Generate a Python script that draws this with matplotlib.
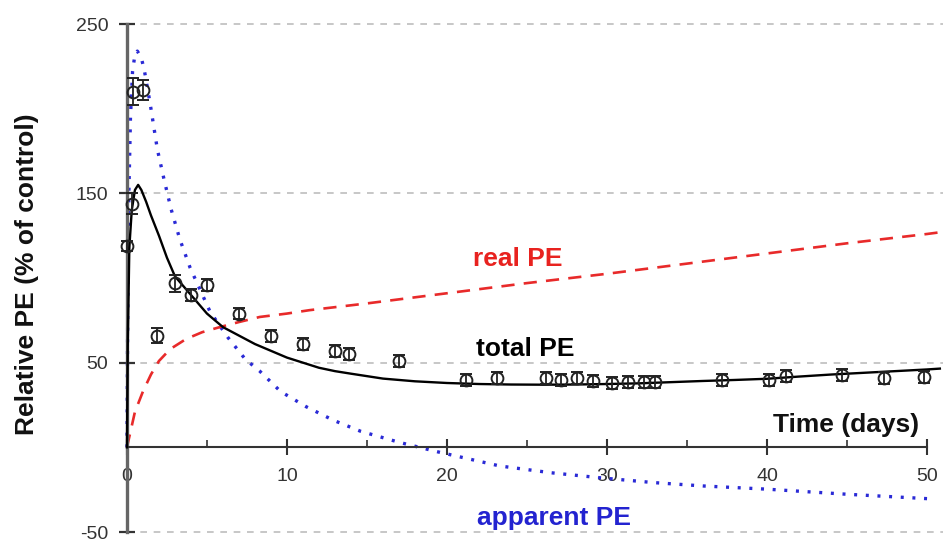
import matplotlib
matplotlib.use("Agg")
import matplotlib.pyplot as plt
from matplotlib.ticker import MultipleLocator

plt.rcParams['font.family'] = ['Liberation Sans', 'DejaVu Sans']
plt.rcParams['axes.unicode_minus'] = False

# observed points (days, % of control) with error bars
x_obs = [0.0, 0.3, 0.35, 1.0, 1.9, 3.0, 4.0, 5.0, 7.0, 9.0, 11.0, 13.0, 13.9, 17.0,
         21.2, 23.1, 26.2, 27.1, 28.1, 29.1, 30.3, 31.3, 32.3, 33.0,
         37.2, 40.1, 41.2, 44.7, 47.3, 49.8]
y_obs = [119, 144, 210, 211, 66, 97, 90, 96, 79, 66, 61, 57, 55, 51,
         40, 41, 41, 40, 41, 39, 38, 38.5, 38.5, 38.5,
         40, 40, 42, 42.5, 41, 41.5]
err_obs = [3, 6, 8, 6, 4.5, 5, 3.5, 3.5, 3.5, 3.5, 3.5, 3.5, 3.5, 3.5,
           3.5, 3.5, 3.5, 3.5, 3.5, 3.5, 3.5, 3.5, 3.5, 3.5,
           3.5, 3.5, 3.5, 3.5, 3.5, 3.5]

# model curves
x_total = [0, 0.05, 0.15, 0.3, 0.5, 0.7, 0.9, 1.2, 1.5, 2.0, 2.5, 3.0, 4.0, 5.0, 6.0,
           7.0, 8.0, 9.0, 10, 11, 12, 13, 14, 16, 18, 20, 22, 24, 26, 28, 30, 32,
           34, 36, 38, 40, 42, 44, 46, 48, 50, 50.8]
y_total = [0, 60, 118, 140, 152, 155, 152, 145, 137, 125, 112, 101, 90, 79, 71,
           66, 61, 57, 53, 50, 47, 45, 43.5, 40.6, 39, 38, 37.4, 37.1, 37, 37.1, 37.4, 37.8,
           38.5, 39.2, 39.8, 40.5, 41.8, 43, 44, 45, 46, 46.5]

x_real = [0, 0.5, 1.0, 1.5, 2.0, 2.7, 3.7, 4.7, 5.8, 7.0, 8.3, 10, 11.4, 15, 20, 25,
          30, 35, 40, 45, 50, 50.8]
y_real = [0, 21, 33, 43, 51, 58, 64, 68, 71, 74, 77, 79, 81, 85, 91, 97,
          102.5, 108.5, 114.5, 120.5, 126, 127]

x_app = [0, 0.05, 0.12, 0.22, 0.35, 0.5, 0.65, 0.9, 1.1, 1.45, 1.9, 2.3, 2.75, 3.3,
         3.95, 5.2, 6.3, 7.4, 8.3, 9.6, 11.2, 12.9, 14.6, 17, 19.4, 23.3, 26.5,
         29.6, 32.9, 36, 40, 45, 50.4]
y_app = [0, 80, 150, 195, 222, 232, 234, 230, 222, 203, 176, 159, 141, 123,
         106, 80, 65, 52, 45, 33, 24, 16, 9.5, 3, -2.6, -11, -15,
         -18, -20.8, -22.8, -24.7, -27.7, -30.5]

y_grid = [250, 150, 50, -50]

fig = plt.figure(figsize=(9.44, 5.44), dpi=100)
ax = fig.add_axes([0.126, 0.0158, 0.873, 0.9463])
ax.set_xlim(-0.5, 51)
ax.set_ylim(-52, 252)

ax.hlines(y_grid, 0, 51, colors='#bdbdbd', linestyles=(0, (4, 4)), linewidth=1.2, zorder=0)

ax.plot(x_app, y_app, color='#2a2ad6', linewidth=2.4, linestyle=(0, (0.9, 2.6)),
        clip_on=False, zorder=2)
ax.plot(x_real, y_real, color='#e82a2a', linewidth=1.9, linestyle=(0, (5, 3.5)),
        clip_on=False, zorder=2)
ax.plot(x_total, y_total, color='black', linewidth=1.7, clip_on=False, zorder=3)
ax.errorbar(x_obs, y_obs, yerr=err_obs, fmt='o', mfc='none', mec='#222222',
            mew=1.4, ms=8.5, ecolor='#222222', elinewidth=1.3, capsize=4,
            capthick=1.3, clip_on=False, zorder=4)

for s in ['top', 'right']:
    ax.spines[s].set_visible(False)
ax.spines['left'].set_position(('data', 0))
ax.spines['left'].set_bounds(-50, 250)
ax.spines['left'].set_color('#666666')
ax.spines['left'].set_linewidth(2.4)
ax.spines['bottom'].set_position(('data', 0))
ax.spines['bottom'].set_bounds(0, 50)
ax.spines['bottom'].set_color('#333333')
ax.spines['bottom'].set_linewidth(1.5)

ax.set_yticks(y_grid)
ax.set_xticks(range(0, 51, 10))
ax.xaxis.set_minor_locator(MultipleLocator(5))
ax.tick_params(axis='y', direction='inout', length=11, width=1.6, color='#333333',
               labelsize=14, labelcolor='#333333', pad=8)
ax.tick_params(axis='x', which='major', direction='inout', length=12, width=1.5,
               color='#333333', labelsize=14, labelcolor='#333333', pad=9)
ax.tick_params(axis='x', which='minor', direction='in', length=5, width=1.2,
               color='#333333')

ax.text(24.4, 111.5, 'real PE', color='#e8221f', fontsize=19, fontweight='bold',
        ha='center', va='center')
ax.text(24.9, 58, 'total PE', color='black', fontsize=19, fontweight='bold',
        ha='center', va='center')
ax.text(26.7, -41.5, 'apparent PE', color='#2323d0', fontsize=19, fontweight='bold',
        ha='center', va='center')
ax.text(49.5, 13, 'Time (days)', color='#111111', fontsize=19, fontweight='bold',
        ha='right', va='center')

fig.text(0.029, 1 - 274 / 544, 'Relative PE (% of control)', rotation=90,
         fontsize=19, fontweight='bold', ha='center', va='center', color='#111111')

fig.savefig('out.png', dpi=100)
